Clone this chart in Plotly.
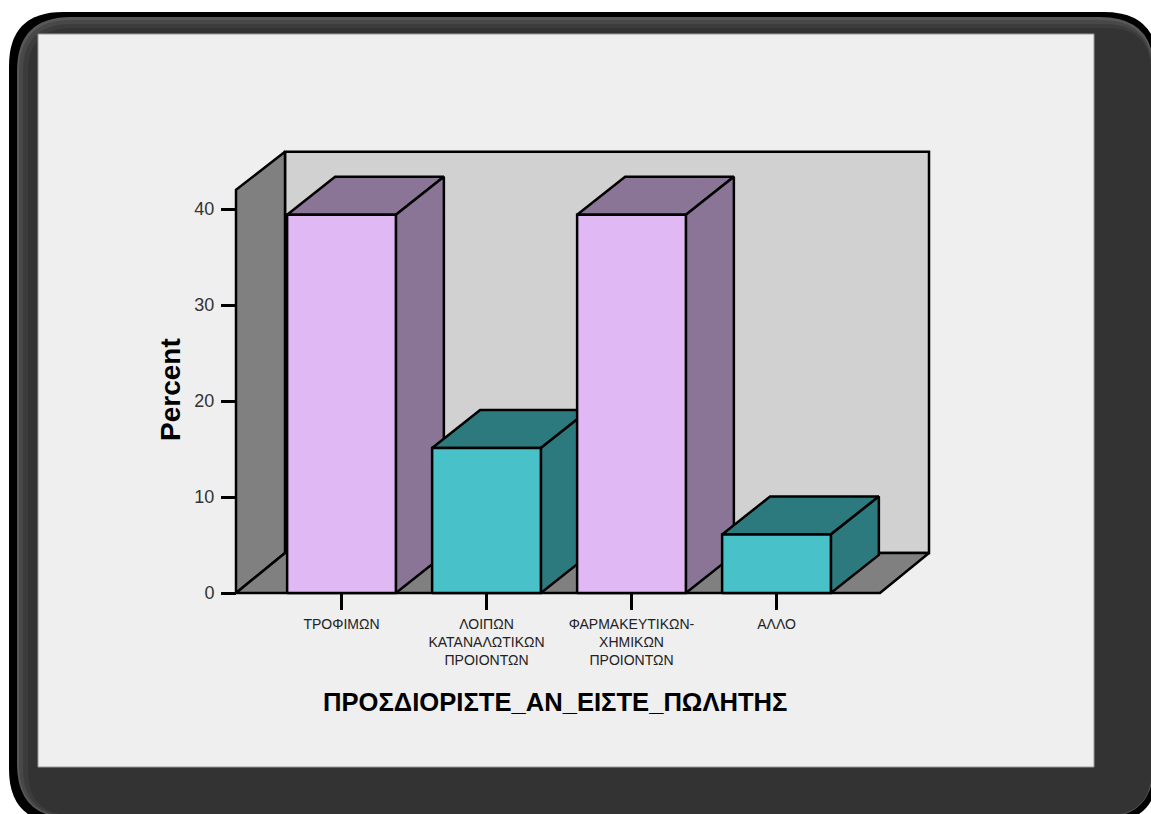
import plotly.graph_objects as go

# Chart content
categories = ["ΤΡΟΦΙΜΩΝ", "ΛΟΙΠΩΝ<br>ΚΑΤΑΝΑΛΩΤΙΚΩΝ<br>ΠΡΟΙΟΝΤΩΝ",
              "ΦΑΡΜΑΚΕΥΤΙΚΩΝ-<br>ΧΗΜΙΚΩΝ<br>ΠΡΟΙΟΝΤΩΝ", "ΑΛΛΟ"]
percent = [39.4, 15.1, 39.4, 6.1]
y_ticks = [0, 10, 20, 30, 40]
x_title = "ΠΡΟΣΔΙΟΡΙΣΤΕ_ΑΝ_ΕΙΣΤΕ_ΠΩΛΗΤΗΣ"
y_title = "Percent"

# Colours: front face and shaded side/top face of each bar
front_colors = ["#dfb8f4", "#48c2c8", "#dfb8f4", "#48c2c8"]
shade_colors = ["#8b7596", "#2d7a7e", "#8b7596", "#2d7a7e"]
WALL_BACK = "#d1d1d1"
WALL_SIDE = "#808080"
PANEL = "#efefef"

# Page layout in pixels
W, H = 1151, 814
PX_PER_CAT = 145.0
PX_PER_PCT = 9.6
X0_PX, Y0_PX = 341.5, 593.0        # pixel of category 0 / of 0 percent
LEFT_PX, RIGHT_PX = 236.0, 929.0   # extent of the 3D box
TOP_PX = 152.0
PAD_PX = 4.0                       # room so the box outline is not clipped

# Oblique projection, expressed in axis units
BAR_W = 0.75
WALL_DX, WALL_DY = 49 / PX_PER_CAT, 40 / PX_PER_PCT
BAR_DX, BAR_DY = 48 / PX_PER_CAT, 38 / PX_PER_PCT
Y_MAX = 42.0
WALL_TOP = Y_MAX + BAR_DY
X_LO = (LEFT_PX - X0_PX) / PX_PER_CAT
X_HI = (RIGHT_PX - WALL_DX * PX_PER_CAT - X0_PX) / PX_PER_CAT


def face(xs, ys, color):
    return go.Scatter(x=xs + xs[:1], y=ys + ys[:1], mode="lines", fill="toself",
                      fillcolor=color, line=dict(color="black", width=2.5),
                      hoverinfo="skip", showlegend=False)


def box_faces(x_left, x_right, top, color_front, color_shade):
    return [
        face([x_left, x_right, x_right + BAR_DX, x_left + BAR_DX],
             [top, top, top + BAR_DY, top + BAR_DY], color_shade),
        face([x_right, x_right + BAR_DX, x_right + BAR_DX, x_right],
             [0, BAR_DY, top + BAR_DY, top], color_shade),
        face([x_left, x_right, x_right, x_left], [0, 0, top, top], color_front),
    ]


fig = go.Figure()

# Back wall, side wall and floor of the 3D box
fig.add_trace(face([X_LO + WALL_DX, X_HI + WALL_DX, X_HI + WALL_DX, X_LO + WALL_DX],
                   [WALL_DY, WALL_DY, WALL_TOP, WALL_TOP], WALL_BACK))
fig.add_trace(face([X_LO, X_LO + WALL_DX, X_LO + WALL_DX, X_LO],
                   [0, WALL_DY, WALL_TOP, Y_MAX], WALL_SIDE))
fig.add_trace(face([X_LO, X_HI, X_HI + WALL_DX, X_LO + WALL_DX],
                   [0, 0, WALL_DY, WALL_DY], WALL_SIDE))

# Bars, left to right so each one overlaps the shaded side of the previous one
for i, value in enumerate(percent):
    for tr in box_faces(i - BAR_W / 2, i + BAR_W / 2, value,
                        front_colors[i], shade_colors[i]):
        fig.add_trace(tr)


def rounded(x0, y0, x1, y1, r):
    """Rounded rectangle path in paper coordinates, given pixel corners."""
    fx = lambda v: f"{v / W:.5f}"
    fy = lambda v: f"{1 - v / H:.5f}"
    return (f"M {fx(x0 + r)} {fy(y0)} L {fx(x1 - r)} {fy(y0)} "
            f"Q {fx(x1)} {fy(y0)} {fx(x1)} {fy(y0 + r)} L {fx(x1)} {fy(y1 - r)} "
            f"Q {fx(x1)} {fy(y1)} {fx(x1 - r)} {fy(y1)} L {fx(x0 + r)} {fy(y1)} "
            f"Q {fx(x0)} {fy(y1)} {fx(x0)} {fy(y1 - r)} L {fx(x0)} {fy(y0 + r)} "
            f"Q {fx(x0)} {fy(y0)} {fx(x0 + r)} {fy(y0)} Z")


# Dark bevelled frame around the light panel
frame_layers = [
    (9, 12, 1158, 823, 54, "#000000"),
    (17, 17, 1154, 818, 54, "#585858"),
    (19, 20, 1153, 817, 52, "#484848"),
    (23, 24, 1152, 816, 48, "#3c3c3c"),
    (28, 28, 1151, 815, 44, "#333333"),
]
shapes = [dict(type="path", xref="paper", yref="paper", layer="below",
               path=rounded(*layer[:5]), fillcolor=layer[5], line_width=0)
          for layer in frame_layers]
shapes.append(dict(type="rect", xref="paper", yref="paper", layer="below",
                   x0=38 / W, x1=1094 / W, y0=1 - 767 / H, y1=1 - 34 / H,
                   fillcolor=PANEL, line=dict(color="#9a9a9a", width=1)))

TICK_FONT = "Liberation Sans, Arial, sans-serif"
TITLE_FONT = "Liberation Sans, Arial, sans-serif"

fig.update_layout(
    width=W, height=H, autosize=False,
    margin=dict(l=0, r=0, t=0, b=0, pad=0, autoexpand=False),
    paper_bgcolor="white", plot_bgcolor="rgba(0,0,0,0)",
    shapes=shapes,
    xaxis=dict(domain=[(LEFT_PX - PAD_PX) / W, (RIGHT_PX + PAD_PX) / W],
               range=[X_LO - PAD_PX / PX_PER_CAT, X_HI + WALL_DX + PAD_PX / PX_PER_CAT],
               anchor="free", position=1 - Y0_PX / H,
               showgrid=False, zeroline=False,
               tickmode="array", tickvals=list(range(len(categories))), ticktext=categories,
               tickangle=0, ticks="outside", ticklen=16, tickwidth=2.5, tickcolor="black",
               ticklabelstandoff=2,
               tickfont=dict(family=TICK_FONT, size=14, color="#222222")),
    yaxis=dict(domain=[1 - (Y0_PX + PAD_PX) / H, 1 - (TOP_PX - PAD_PX) / H],
               range=[-PAD_PX / PX_PER_PCT, (Y0_PX - TOP_PX + PAD_PX) / PX_PER_PCT],
               anchor="free", position=LEFT_PX / W,
               showgrid=False, zeroline=False,
               tickmode="array", tickvals=y_ticks,
               ticks="outside", ticklen=15, tickwidth=2.5, tickcolor="black",
               ticklabelstandoff=3,
               tickfont=dict(family=TICK_FONT, size=18, color="#333333")),
    annotations=[
        dict(text=f"<b>{x_title}</b>", xref="paper", yref="paper", showarrow=False,
             x=555 / W, y=1 - 702 / H, yanchor="middle", xanchor="center",
             font=dict(family=TITLE_FONT, size=25.6, color="black")),
        dict(text=f"<b>{y_title}</b>", xref="paper", yref="paper", showarrow=False,
             x=170 / W, y=1 - 390 / H, yanchor="middle", xanchor="center", textangle=-90,
             font=dict(family=TITLE_FONT, size=28, color="black")),
    ],
)

fig.write_html("out.html")
